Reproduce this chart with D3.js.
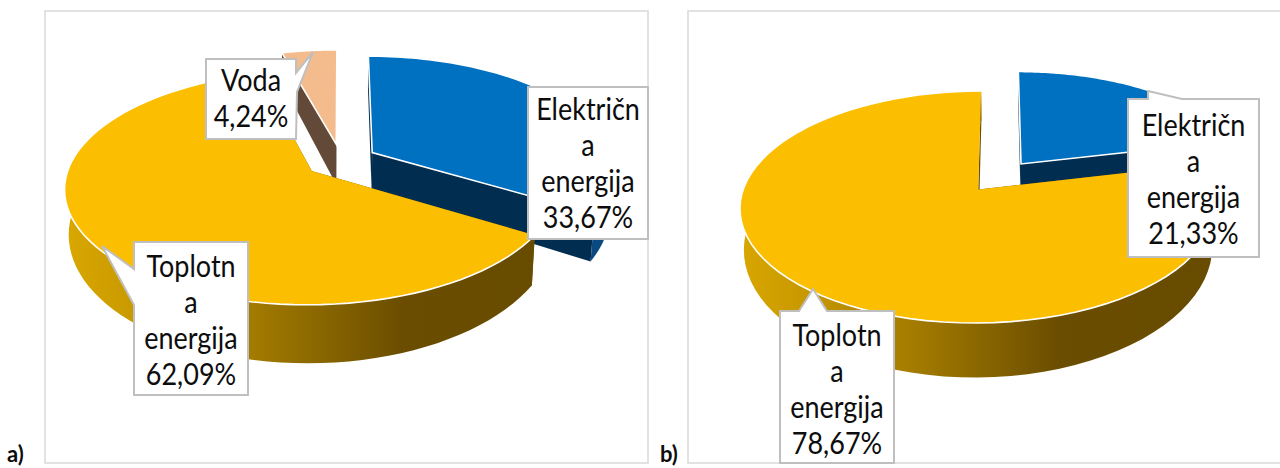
<!DOCTYPE html>
<html><head><meta charset="utf-8">
<script src="https://cdnjs.cloudflare.com/ajax/libs/d3/7.8.5/d3.min.js"></script>
<style>html,body{margin:0;padding:0;background:#fff;overflow:hidden}svg{display:block}</style>
</head><body><svg id="c" width="1280" height="468"></svg>
<script>
// ---- data ----
const categoriesA = ["Električna energija", "Toplotna energija", "Voda"];
const valuesA = [33.67, 62.09, 4.24];
const categoriesB = ["Električna energija", "Toplotna energija"];
const valuesB = [21.33, 78.67];
const wrappedLabels = {
  "Električna energija": ["Električn", "a", "energija"],
  "Toplotna energija": ["Toplotn", "a", "energija"],
  "Voda": ["Voda"]
};
// ---- styles ----
const colors = {
  "Električna energija": {top: "#0070C0", cut: "#002D50", wall: "#0A4A80"},
  "Toplotna energija": {top: "#FBBE00", cut: "#6A4D00", wall: null},
  "Voda": {top: "#F4BC8D", cut: "#634A38", wall: "#634A38"}
};
const fontFamily = "Lato, Carlito, sans-serif";
const svg = d3.select("#c");
const defs = svg.append("defs");

function frame(x0, y0, x1, y1) {
  svg.append("rect").attr("x", x0).attr("y", y0).attr("width", x1 - x0).attr("height", y1 - y0)
    .attr("fill", "#fff").attr("stroke", "#D9D9D9").attr("stroke-width", 1.5);
}

function drawPie(id, categories, values, g, labels) {
  const arcs = d3.pie().sort(null).value(d => d)(values);
  const proj = (u, v) => {
    const w = 1 - g.k * v;
    return {x: g.cx + g.R * u / w, y: g.cy + g.Ry * v / w, w};
  };
  const topPt = (u, v) => { const p = proj(u, v); return [p.x, p.y]; };
  const botPt = (u, v) => {
    const p = proj(u, v);
    return [g.cx + (p.x - g.cx) * g.shrink, p.y + g.D / (p.w * p.w)];
  };
  const line = d3.line();
  const grad = defs.append("linearGradient").attr("id", "g" + id)
    .attr("gradientUnits", "userSpaceOnUse")
    .attr("x1", g.cx - g.R * 1.12).attr("x2", g.cx + g.R * 1.0).attr("y1", 0).attr("y2", 0);
  [[0, "#D8A600"], [0.12, "#C99A00"], [0.36, "#A27A00"], [0.65, "#6A4D00"], [1, "#674B00"]]
    .forEach(s => grad.append("stop").attr("offset", s[0]).attr("stop-color", s[1]));

  const order = d3.range(arcs.length).sort((a, b) =>
    (categories[a] === "Toplotna energija") - (categories[b] === "Toplotna energija") ||
    (categories[b] === "Voda") - (categories[a] === "Voda"));

  order.forEach(i => {
    const a = arcs[i], c = colors[categories[i]];
    const mid = (a.startAngle + a.endAngle) / 2;
    const du = Math.sin(mid) * g.d, dv = -Math.cos(mid) * g.d;
    const steps = d3.range(0, 81).map(t => a.startAngle + (a.endAngle - a.startAngle) * t / 80);
    const rim = steps.map(t => [du + Math.sin(t), dv - Math.cos(t)]);
    const apex = [du, dv];
    const first = rim[0], last = rim[rim.length - 1];
    const grp = svg.append("g").attr("class", "slice");
    [first, last].forEach(e => {
      grp.append("path").attr("fill", c.cut)
        .attr("d", line([topPt(...apex), topPt(...e), botPt(...e), botPt(...apex)]) + "Z");
    });
    grp.append("path").attr("fill", c.wall || `url(#g${id})`)
      .attr("d", line(rim.map(p => topPt(...p)).concat(rim.slice().reverse().map(p => botPt(...p)))) + "Z");
    const outline = [topPt(...apex)].concat(rim.map(p => topPt(...p)));
    grp.append("path").attr("fill", c.top).attr("d", line(outline) + "Z");
    if (categories[i] === "Toplotna energija") {
      grp.append("path").attr("fill", "none").attr("stroke", "#fff").attr("stroke-width", 1.6)
        .attr("d", line(rim.map(p => topPt(...p))));
    } else {
      grp.append("path").attr("fill", "none").attr("stroke", "#fff").attr("stroke-width", 1.6)
        .attr("d", line(outline) + "Z");
    }
  });

  categories.forEach((cat, i) => {
    const L = labels[cat];
    const lines = wrappedLabels[cat].concat(d3.format(".2f")(values[i]).replace(".", ",") + "%");
    svg.append("path").attr("fill", "#fff").attr("stroke", "#BFBFBF").attr("stroke-width", 2)
      .attr("d", line(L.outline) + "Z");
    const cx = (L.x0 + L.x1) / 2;
    lines.forEach((s, j) => svg.append("text").attr("text-anchor", "middle").attr("font-family", fontFamily)
      .attr("font-size", g.font).attr("fill", "#0d0d0d")
      .attr("transform", `translate(${cx},${L.base + j * g.pitch}) scale(1,1.12)`).text(s));
  });
}

frame(45, 11, 648, 463);
frame(688, 11, 1290, 463);

const bA = {
  "Električna energija": {x0: 528, x1: 648, base: 120,
    outline: [[528,87],[648,87],[648,239],[528,239]]},
  "Toplotna energija": {x0: 134, x1: 248, base: 277,
    outline: [[134,242],[248,242],[248,395],[134,395],[134,305],[102,246],[134,269]]},
  "Voda": {x0: 206, x1: 296, base: 91,
    outline: [[206,59],[296,59],[296,73],[313,52],[297,92],[296,139],[206,139]]}
};
drawPie("a", categoriesA, valuesA,
  {cx: 341, cy: 160.7, R: 241, Ry: 112, k: 0.14, d: 0.15, D: 42, shrink: 0.985, font: 27, pitch: 36},
  bA);

const bB = {
  "Električna energija": {x0: 1128, x1: 1259, base: 136,
    outline: [[1128,99],[1148,99],[1148,91],[1182,99],[1259,99],[1259,257],[1128,257]]},
  "Toplotna energija": {x0: 780, x1: 894, base: 346,
    outline: [[780,311],[799,311],[813,289],[827,311],[894,311],[894,463],[780,463]]}
};
drawPie("b", categoriesB, valuesB,
  {cx: 1000, cy: 176.5, R: 231, Ry: 109.5, k: 0.148, d: 0.149, D: 38, shrink: 0.985, font: 27, pitch: 36},
  bB);

svg.append("text").attr("x", 7).attr("y", 462).attr("font-family", fontFamily).attr("font-weight", 700).attr("font-size", 22).attr("fill", "#0d0d0d").text("a)");
svg.append("text").attr("x", 660).attr("y", 462).attr("font-family", fontFamily).attr("font-weight", 700).attr("font-size", 22).attr("fill", "#0d0d0d").text("b)");
</script></body></html>
